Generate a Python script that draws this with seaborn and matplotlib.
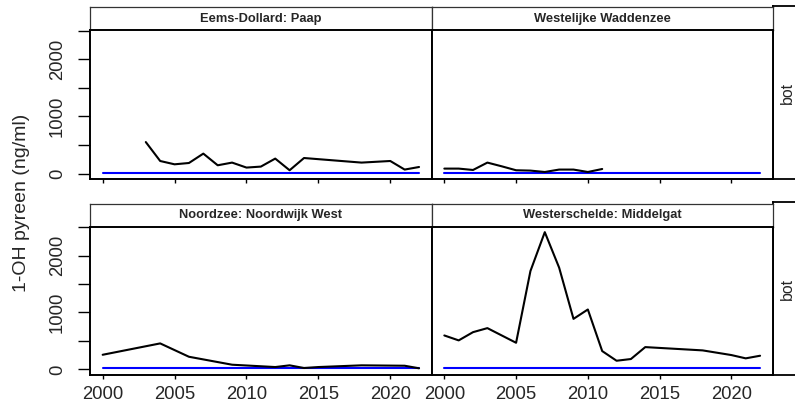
import matplotlib
matplotlib.use("Agg")
import matplotlib.pyplot as plt
import numpy as np
import pandas as pd
import seaborn as sns

# ---------------- data ----------------
sites = ["Eems-Dollard: Paap", "Westelijke Waddenzee",
         "Noordzee: Noordwijk West", "Westerschelde: Middelgat"]

ed_years = [2003, 2004, 2005, 2006, 2007, 2008, 2009, 2010, 2011, 2012, 2013, 2014, 2018, 2020, 2021, 2022]
ed_vals = [551, 220, 162, 185, 349, 145, 192, 105, 122, 262, 58, 272, 192, 220, 70, 115]

ww_years = [2000, 2001, 2002, 2003, 2004, 2005, 2006, 2007, 2008, 2009, 2010, 2011]
ww_vals = [87, 87, 63, 192, 127, 58, 52, 28, 70, 70, 28, 80]

nz_years = [2000, 2004, 2006, 2009, 2012, 2013, 2014, 2015, 2018, 2021, 2022]
nz_vals = [256, 456, 221, 81, 40, 70, 23, 40, 70, 63, 18]

ws_years = [2000, 2001, 2002, 2003, 2005, 2006, 2007, 2008, 2009, 2010, 2011, 2012, 2013, 2014, 2018, 2020, 2021, 2022]
ws_vals = [596, 509, 654, 725, 467, 1730, 2414, 1789, 888, 1053, 321, 151, 181, 391, 333, 251, 193, 239]

ref_years = [2000, 2022]
ref_vals = [15, 15]

series = [(ed_years, ed_vals), (ww_years, ww_vals), (nz_years, nz_vals), (ws_years, ws_vals)]

x_ticks = [2000, 2005, 2010, 2015, 2020]
y_ticks = [0, 500, 1000, 1500, 2000, 2500]
y_ticklabels = ["0", "", "1000", "", "2000", ""]
ylabel = "1-OH pyreen (ng/ml)"
outer_strip = "bot"

# ---------------- style ----------------
sns.set_theme(style="white")
plt.rcParams["font.family"] = ["Liberation Sans", "DejaVu Sans"]

W, H = 795, 403
fig = plt.figure(figsize=(W / 100, H / 100), dpi=100)


def box(x0, y0, x1, y1):
    return [x0 / W, 1 - y1 / H, (x1 - x0) / W, (y1 - y0) / H]


cols = [(90, 431.7), (431.7, 772.7)]
panel_rows = [(30, 179.3), (226.7, 375)]
strip_rows = [(7.3, 30), (204, 226.7)]
bot_rows = [(6, 179.3), (202, 375)]


def plain_box(ax, lw=0.9, color="#333333"):
    ax.set_xticks([])
    ax.set_yticks([])
    ax.set_facecolor("white")
    for s in ax.spines.values():
        s.set_visible(True)
        s.set_linewidth(lw)
        s.set_color(color)


# outer "bot" strips
for r in range(2):
    y0, y1 = bot_rows[r]
    ax = fig.add_axes(box(772.7, y0, 810, y1))
    plain_box(ax, lw=1.3, color="black")
    ax.text(14.5 / 37.3, 0.5, outer_strip, rotation=90, ha="center", va="center",
            fontsize=11.4, transform=ax.transAxes)

for i, site in enumerate(sites):
    r, c = divmod(i, 2)
    x0, x1 = cols[c]
    # strip
    sy0, sy1 = strip_rows[r]
    sax = fig.add_axes(box(x0, sy0, x1, sy1))
    plain_box(sax)
    sax.text(0.5, 0.5, site, ha="center", va="center", fontsize=9.3,
             fontweight="bold", transform=sax.transAxes)

    # panel
    py0, py1 = panel_rows[r]
    ax = fig.add_axes(box(x0, py0, x1, py1))
    yrs, vals = series[i]
    df = pd.DataFrame({"jaar": yrs, "waarde": vals})
    ref = pd.DataFrame({"jaar": ref_years, "waarde": ref_vals})
    sns.lineplot(data=ref, x="jaar", y="waarde", color="#0000FF", lw=1.5, ax=ax,
                 estimator=None)
    sns.lineplot(data=df, x="jaar", y="waarde", color="black", lw=1.5, ax=ax,
                 estimator=None)
    ax.set_xlim(1999.12, 2022.88)
    ax.set_ylim(-100, 2510)
    ax.set_xlabel("")
    ax.set_ylabel("")
    ax.set_facecolor("white")
    for s in ax.spines.values():
        s.set_visible(True)
        s.set_linewidth(1.4)
        s.set_color("black")

    ax.set_xticks(x_ticks)
    ax.tick_params(axis="x", direction="out", length=3, width=1.0, color="black",
                   bottom=True, labelsize=13.3, pad=5)
    if r == 0:
        ax.set_xticklabels([])
    else:
        ax.set_xticklabels([str(t) for t in x_ticks])

    if c == 0:
        ax.set_yticks(y_ticks)
        ax.set_yticklabels(y_ticklabels, rotation=90, va="center")
        ax.tick_params(axis="y", direction="out", length=8.4, width=1.0, color="black",
                       left=True, labelsize=13.3, pad=9)
    else:
        ax.set_yticks([])

fig.text(22 / W, 1 - 203 / H, ylabel, rotation=90, ha="center", va="center", fontsize=14)

fig.savefig("out.png", dpi=100, facecolor="white")
